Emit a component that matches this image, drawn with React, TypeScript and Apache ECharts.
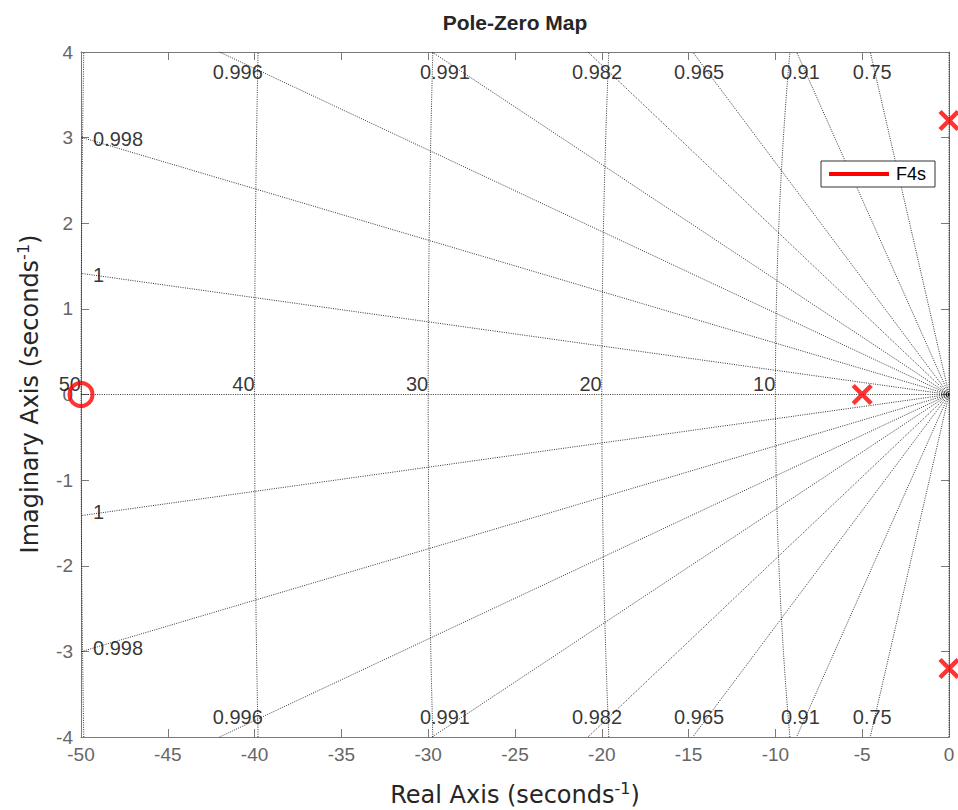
import React, { useEffect, useRef } from "react";
import * as echarts from "echarts";

// Axis ranges (seconds^-1)
const X_MIN = -50;
const X_MAX = 0;
const Y_MIN = -4;
const Y_MAX = 4;

// Damping ratios of the s-plane grid rays
const ZETA = [0.75, 0.91, 0.9652, 0.982, 0.9911, 0.9955, 0.9982, 0.9996];
// Natural frequencies of the grid arcs
const WN = [10, 20, 30, 40, 50];

// System F4s
const POLES: [number, number][] = [
  [-5, 0],
  [0, 3.2],
  [0, -3.2],
];
const ZEROS: [number, number][] = [[-50, 0]];

const SERIES_NAME = "F4s";

const FONT = "'Liberation Sans', Arial, Helvetica, sans-serif";
const TITLE_FONT = "'DejaVu Sans', 'Liberation Sans', sans-serif";

const fmtZeta = (z: number) => String(Number(z.toPrecision(3)));

function buildOption() {
  const gridLine = {
    color: "#000000",
    width: 0.8,
    type: [1, 1.3] as number[],
  };

  const series: any[] = [];

  // legend entry
  series.push({
    name: SERIES_NAME,
    type: "line",
    data: [],
    color: "#ff0000",
    itemStyle: { color: "#ff0000" },
    lineStyle: { color: "#ff0000", width: 4 },
  });

  const topLabels: any[] = [];
  const leftLabels: any[] = [];

  // constant-damping rays from the origin
  ZETA.forEach((z) => {
    const s = Math.sqrt(1 - z * z) / z;
    const hitsTop = -X_MIN * s > Y_MAX;
    [1, -1].forEach((sign) => {
      const end = hitsTop ? [-Y_MAX / s, sign * Y_MAX] : [X_MIN, sign * -X_MIN * s];
      series.push({
        type: "line",
        silent: true,
        symbol: "none",
        z: 1,
        data: [[0, 0], end],
        lineStyle: gridLine,
      });
      if (hitsTop) {
        topLabels.push({ name: fmtZeta(z), value: [-3.9 / s, sign * 3.77] });
      } else {
        leftLabels.push({
          name: fmtZeta(z),
          value: [X_MIN, sign * -X_MIN * s],
          label: { offset: [0, sign > 0 ? 2 : -4] },
        });
      }
    });
  });

  // real and imaginary axes of the s-plane grid
  series.push({
    type: "line",
    silent: true,
    symbol: "none",
    z: 1,
    data: [[X_MIN, 0], [0, 0]],
    lineStyle: gridLine,
  });
  series.push({
    type: "line",
    silent: true,
    symbol: "none",
    z: 1,
    data: [[0, Y_MIN], [0, Y_MAX]],
    lineStyle: gridLine,
  });

  // constant natural-frequency arcs
  WN.forEach((w) => {
    const pts: number[][] = [];
    const steps = 160;
    for (let i = 0; i <= steps; i++) {
      const y = Y_MIN + ((Y_MAX - Y_MIN) * i) / steps;
      if (Math.abs(y) <= w) pts.push([-Math.sqrt(w * w - y * y), y]);
    }
    series.push({
      type: "line",
      silent: true,
      symbol: "none",
      z: 1,
      data: pts,
      lineStyle: gridLine,
    });
  });

  const labelText = { color: "#000", fontSize: 20, fontFamily: FONT };

  series.push({
    type: "scatter",
    silent: true,
    symbolSize: 0.1,
    itemStyle: { color: "rgba(0,0,0,0)" },
    z: 3,
    clip: false,
    data: topLabels,
    label: { show: true, position: "inside", formatter: "{b}", ...labelText },
  });
  series.push({
    type: "scatter",
    silent: true,
    symbolSize: 0.1,
    itemStyle: { color: "rgba(0,0,0,0)" },
    z: 3,
    clip: false,
    data: leftLabels,
    label: {
      show: true,
      position: "right",
      distance: 12,
      formatter: "{b}",
      ...labelText,
    },
  });
  series.push({
    type: "scatter",
    silent: true,
    symbolSize: 0.1,
    itemStyle: { color: "rgba(0,0,0,0)" },
    z: 3,
    clip: false,
    data: WN.map((w) => ({ name: String(w), value: [-w, 0] })),
    label: {
      show: true,
      position: "left",
      distance: 0,
      offset: [0, -11],
      formatter: "{b}",
      ...labelText,
    },
  });

  // poles and zeros
  series.push({
    name: "poles",
    type: "scatter",
    z: 10,
    clip: false,
    symbol: "path://M0,0L16,16M16,0L0,16",
    symbolSize: 18,
    itemStyle: { color: "rgba(0,0,0,0)", borderColor: "#ff0000", borderWidth: 4.5 },
    data: POLES,
  });
  series.push({
    name: "zeros",
    type: "scatter",
    z: 10,
    clip: false,
    symbol: "circle",
    symbolSize: 23,
    itemStyle: { color: "rgba(0,0,0,0)", borderColor: "#ff0000", borderWidth: 4 },
    data: ZEROS,
  });

  const axisColor = "#7a7a7a";
  const axisLine = { show: true, onZero: false, lineStyle: { color: axisColor, width: 1 } };
  const axisTick = { show: true, inside: true, length: 8, lineStyle: { color: axisColor, width: 1 } };
  const axisLabel = { color: "#666", fontSize: 19, fontFamily: FONT };

  return {
    animation: false,
    backgroundColor: "#ffffff",
    grid: { left: 81, right: 9, top: 52, bottom: 73, containLabel: false },
    legend: {
      left: 821,
      top: 161,
      padding: [4, 9, 4, 8],
      itemWidth: 60,
      itemHeight: 4,
      icon: "rect",
      borderColor: "#333",
      borderWidth: 1,
      borderRadius: 0,
      backgroundColor: "#fff",
      data: [SERIES_NAME],
      textStyle: { color: "#000", fontSize: 18, fontFamily: FONT, padding: [0, 0, 0, 2] },
      selectedMode: false,
    },
    xAxis: [
      {
        type: "value",
        min: X_MIN,
        max: X_MAX,
        interval: 5,
        position: "bottom",
        axisLine,
        axisTick,
        axisLabel: { ...axisLabel, margin: 8, showMinLabel: true, showMaxLabel: true },
        splitLine: { show: false },
      },
      {
        type: "value",
        min: X_MIN,
        max: X_MAX,
        interval: 5,
        position: "top",
        axisLine,
        axisTick,
        axisLabel: { show: false },
        splitLine: { show: false },
      },
    ],
    yAxis: [
      {
        type: "value",
        min: Y_MIN,
        max: Y_MAX,
        interval: 1,
        position: "left",
        axisLine,
        axisTick,
        axisLabel: { ...axisLabel, margin: 8, showMinLabel: true, showMaxLabel: true },
        splitLine: { show: false },
      },
      {
        type: "value",
        min: Y_MIN,
        max: Y_MAX,
        interval: 1,
        position: "right",
        axisLine,
        axisTick,
        axisLabel: { show: false },
        splitLine: { show: false },
      },
    ],
    graphic: [
      {
        type: "text",
        x: 515,
        y: 22,
        silent: true,
        style: {
          text: "Pole-Zero Map",
          align: "center",
          verticalAlign: "middle",
          fill: "#262626",
          fontSize: 21,
          fontWeight: "bold",
          fontFamily: FONT,
        },
      },
      {
        type: "text",
        x: 515,
        y: 795,
        silent: true,
        style: {
          text: "{a|Real Axis (seconds}{s|-1}{a|)}",
          align: "center",
          verticalAlign: "middle",
          rich: {
            a: { fontSize: 24, fontFamily: TITLE_FONT, fill: "#262626", lineHeight: 30 },
            s: { fontSize: 16, fontFamily: TITLE_FONT, fill: "#262626", verticalAlign: "top", lineHeight: 16 },
          },
        },
      },
      {
        type: "text",
        x: 30,
        y: 394,
        rotation: Math.PI / 2,
        silent: true,
        style: {
          text: "{a|Imaginary Axis (seconds}{s|-1}{a|)}",
          align: "center",
          verticalAlign: "middle",
          rich: {
            a: { fontSize: 24, fontFamily: TITLE_FONT, fill: "#262626", lineHeight: 30 },
            s: { fontSize: 16, fontFamily: TITLE_FONT, fill: "#262626", verticalAlign: "top", lineHeight: 16 },
          },
        },
      },
    ],
    series,
  };
}

export default function App() {
  const ref = useRef<HTMLDivElement>(null);

  useEffect(() => {
    document.body.style.margin = "0";
    if (!ref.current) return;
    const chart = echarts.init(ref.current, undefined, { renderer: "svg" });
    chart.setOption(buildOption() as any);
    return () => chart.dispose();
  }, []);

  return <div ref={ref} style={{ width: 958, height: 810 }} />;
}
